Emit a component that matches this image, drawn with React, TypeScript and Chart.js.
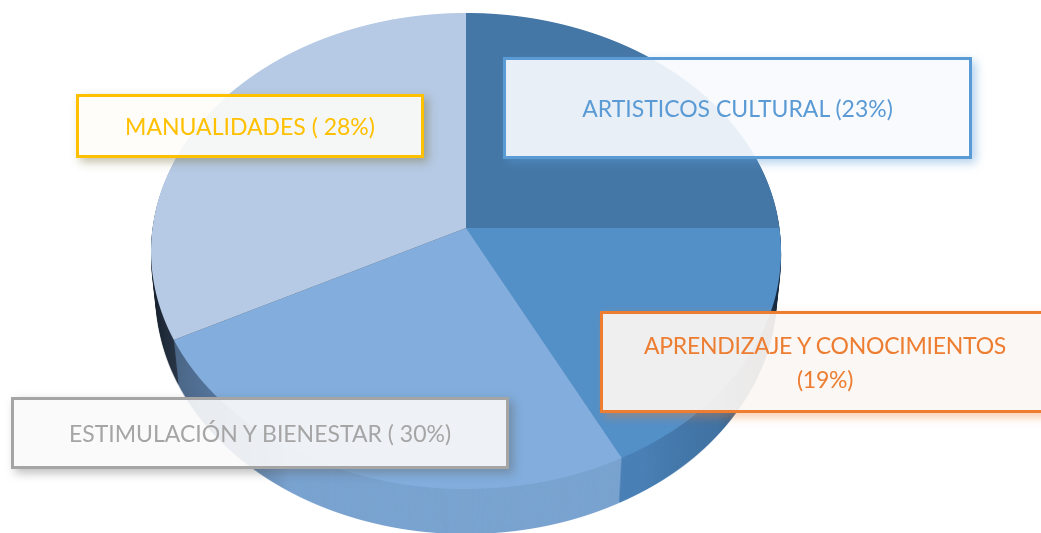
import React, { useEffect, useRef } from "react";
import { Chart, registerables } from "chart.js";

Chart.register(...registerables);

// Share of the pie as drawn (clockwise from the top)
const categories = ["ARTISTICOS CULTURAL", "APRENDIZAJE Y CONOCIMIENTOS", "ESTIMULACIÓN Y BIENESTAR", "MANUALIDADES"];
const sliceValues = [25, 17.5, 25, 32.5];
const sliceColors = ["#4577A6", "#5390C8", "#82ADDC", "#B6CAE5"];
const wallColors = ["#3F6C96", "#4A80B6", "#7AA3D0", "#3A4A5C"];

// Callout captions
const captionLines = [
  ["MANUALIDADES ( 28%)"],
  ["ARTISTICOS CULTURAL (23%)"],
  ["APRENDIZAJE Y CONOCIMIENTOS", "(19%)"],
  ["ESTIMULACIÓN Y BIENESTAR ( 30%)"],
];
const captionStyles = [
  { left: 76, top: 94, width: 348, height: 64, color: "#FFC000", fill: "rgba(254,253,248,0.88)", shadow: "rgba(120,110,60,0.45)", spacing: 0 },
  { left: 503, top: 57, width: 469, height: 102, color: "#5B9BD5", fill: "rgba(247,250,253,0.92)", shadow: "rgba(91,155,213,0.45)", spacing: 0 },
  { left: 600, top: 311, width: 450, height: 102, color: "#ED7D31", fill: "rgba(251,246,243,0.93)", shadow: "rgba(237,125,49,0.4)", spacing: -0.25 },
  { left: 11, top: 397, width: 498, height: 72, color: "#A5A5A5", fill: "rgba(249,249,249,0.9)", shadow: "rgba(90,90,90,0.4)", spacing: 0 },
];

// Perspective of the tilted pie
const APEX_X = 466;
const APEX_Y = 228;
const TILT_C = -0.0966;
const TILT_A = 313.5;
const TILT_B = 235.8;
const DEPTH = 45;
const BASE_SCALE = 310 / 315;

function paintRows(ctx: CanvasRenderingContext2D, arcs: any[]) {
  for (let row = 8; row < 500; row++) {
    const y = row + 0.5 - APEX_Y;
    const v = y / (TILT_B - TILT_C * y);
    if (Math.abs(v) > 1.03) continue;
    const w = 1 + TILT_C * v;
    const xScale = TILT_A / w;
    const yScale = TILT_B / (w * w);
    ctx.save();
    ctx.beginPath();
    ctx.rect(0, row, 1041, 1);
    ctx.clip();
    for (const arc of arcs) {
      const R = arc.outerRadius;
      ctx.save();
      ctx.transform(
        xScale / R, 0, 0, yScale / R,
        APEX_X - (arc.x * xScale) / R,
        APEX_Y + y - ((arc.y + v * R) * yScale) / R,
      );
      arc.draw(ctx);
      ctx.restore();
    }
    ctx.restore();
  }
}

const tiltedPie = {
  id: "tiltedPie",
  beforeDatasetsDraw(chart: any) {
    const arcs = chart.getDatasetMeta(0).data;
    const make = () => {
      const c = document.createElement("canvas");
      c.width = 1041;
      c.height = 600;
      return c;
    };
    // side wall: one layer in the wall colours, stacked from the base upward
    const layer = make();
    const saved = arcs.map((a: any) => a.options);
    arcs.forEach((a: any, i: number) => {
      a.options = { ...saved[i], backgroundColor: wallColors[i] };
    });
    paintRows(layer.getContext("2d")!, arcs);
    arcs.forEach((a: any, i: number) => {
      a.options = saved[i];
    });
    const stack = make();
    const sc = stack.getContext("2d")!;
    for (let k = DEPTH; k >= 1; k--) {
      const s = 1 + ((BASE_SCALE - 1) * k) / DEPTH;
      sc.setTransform(s, 0, 0, 1, APEX_X * (1 - s), k);
      sc.drawImage(layer, 0, 0);
    }
    sc.setTransform(1, 0, 0, 1, 0, 0);
    sc.globalCompositeOperation = "source-atop";
    const g = sc.createLinearGradient(151, 0, 781, 0);
    g.addColorStop(0, "rgba(10,15,25,0.75)");
    g.addColorStop(0.04, "rgba(20,30,45,0.45)");
    g.addColorStop(0.1, "rgba(30,50,80,0.4)");
    g.addColorStop(0.22, "rgba(0,0,0,0)");
    g.addColorStop(0.78, "rgba(0,0,0,0)");
    g.addColorStop(0.9, "rgba(20,40,60,0.15)");
    g.addColorStop(1, "rgba(5,10,20,0.8)");
    sc.fillStyle = g;
    sc.fillRect(0, 0, 1041, 600);
    chart.ctx.drawImage(stack, 0, 0);
    // top face
    paintRows(chart.ctx, arcs);
    return false;
  },
};

export default function App() {
  const ref = useRef<HTMLCanvasElement>(null);
  useEffect(() => {
    document.body.style.margin = "0";
    const chart = new Chart(ref.current!, {
      type: "pie",
      data: {
        labels: categories,
        datasets: [{ data: sliceValues, backgroundColor: sliceColors, borderWidth: 0 }],
      },
      options: {
        animation: false,
        responsive: false,
        radius: 200,
        plugins: { legend: { display: false }, tooltip: { enabled: false } },
      },
      plugins: [tiltedPie],
    } as any);
    return () => chart.destroy();
  }, []);
  return (
    <div style={{ position: "fixed", left: 0, top: 0, width: 1041, height: 533, overflow: "hidden", background: "#fff" }}>
      <canvas ref={ref} width={1041} height={533} style={{ position: "absolute", left: 0, top: 0 }} />
      {captionLines.map((lines, i) => {
        const c = captionStyles[i];
        return (
          <div
            key={lines[0]}
            style={{
              position: "absolute",
              left: c.left,
              top: c.top,
              width: c.width,
              height: c.height,
              boxSizing: "border-box",
              border: `3px solid ${c.color}`,
              background: c.fill,
              boxShadow: `4px 4px 9px ${c.shadow}`,
              color: c.color,
              fontFamily: "Lato, sans-serif",
              fontSize: 23,
              letterSpacing: c.spacing,
              lineHeight: "34px",
              textAlign: "center",
              display: "flex",
              flexDirection: "column",
              justifyContent: "center",
            }}
          >
            {lines.map((l) => (
              <div key={l}>{l}</div>
            ))}
          </div>
        );
      })}
    </div>
  );
}
